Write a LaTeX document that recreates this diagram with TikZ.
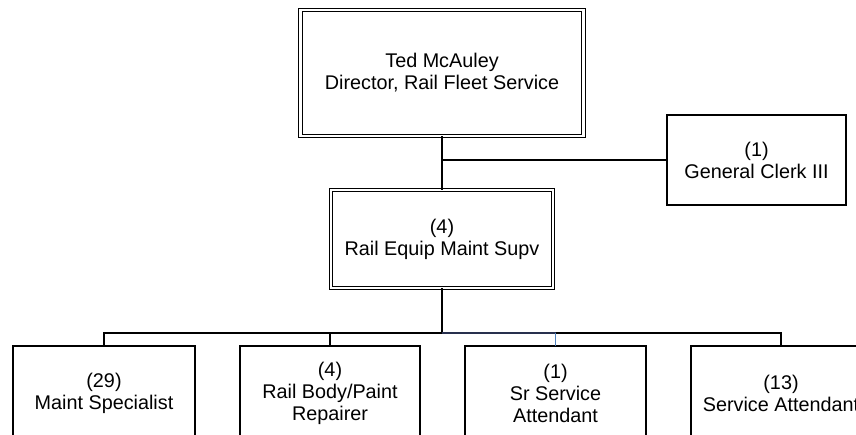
\documentclass[tikz,border=0pt]{standalone}
\usepackage{fontspec}
\setmainfont{Liberation Sans}
\definecolor{linkblue}{RGB}{79,129,189}
\definecolor{busdark}{RGB}{40,48,78}
\begin{document}
\begin{tikzpicture}[x=0.75pt,y=-0.75pt,
  box/.style={draw, line width=1.1pt, inner sep=0pt, outer sep=0pt, align=center,
    font=\fontsize{14.85pt}{16.5pt}\selectfont},
  dbox/.style={box, double, line width=0.9pt, double distance=1.9pt},
  conn/.style={line width=1.1pt}]
\useasboundingbox (0,0) rectangle (856,435);
\clip (0,0) rectangle (856,435);
\node[dbox, minimum width=212.6pt, minimum height=94.5pt] (dir) at (442,73) {Ted McAuley\\Director, Rail Fleet Service};
\node[dbox, minimum width=166.5pt, minimum height=73.5pt] (sup) at (442,239) {(4)\\Rail Equip Maint Supv};
\node[box, minimum width=134.25pt, minimum height=67.5pt] (clerk) at (756.5,160) {(1)\\General Clerk III};
\node[box, minimum width=136.5pt, minimum height=70.5pt] (b1) at (104,393) {(29)\\Maint Specialist};
\node[box, minimum width=135pt, minimum height=70.5pt] (b2) at (330,393) {(4)\\Rail Body/Paint\\Repairer};
\node[box, minimum width=135.75pt, minimum height=70.5pt] (b3) at (555.5,393) {(1)\\Sr Service\\Attendant};
\node[box, minimum width=135pt, minimum height=70.5pt] (b4) at (781,393) {(13)\\Service Attendant};
\coordinate (bus) at (442,333);
\draw[conn] (dir.south) -- (sup.north);
\draw[conn] (dir.south |- clerk.west) -- (clerk.west);
\draw[conn] (sup.south) -- (bus);
\draw[conn] (b1.north) -- (b1.north |- bus) -- (bus);
\draw[conn] (b3.north |- bus) -- (b4.north |- bus) -- (b4.north);
\draw[conn, busdark] (bus) -- (b3.north |- bus);
\draw[conn] (b2.north) -- (b2.north |- bus);
\draw[conn, linkblue] (b3.north) -- (b3.north |- bus);
\end{tikzpicture}
\end{document}
